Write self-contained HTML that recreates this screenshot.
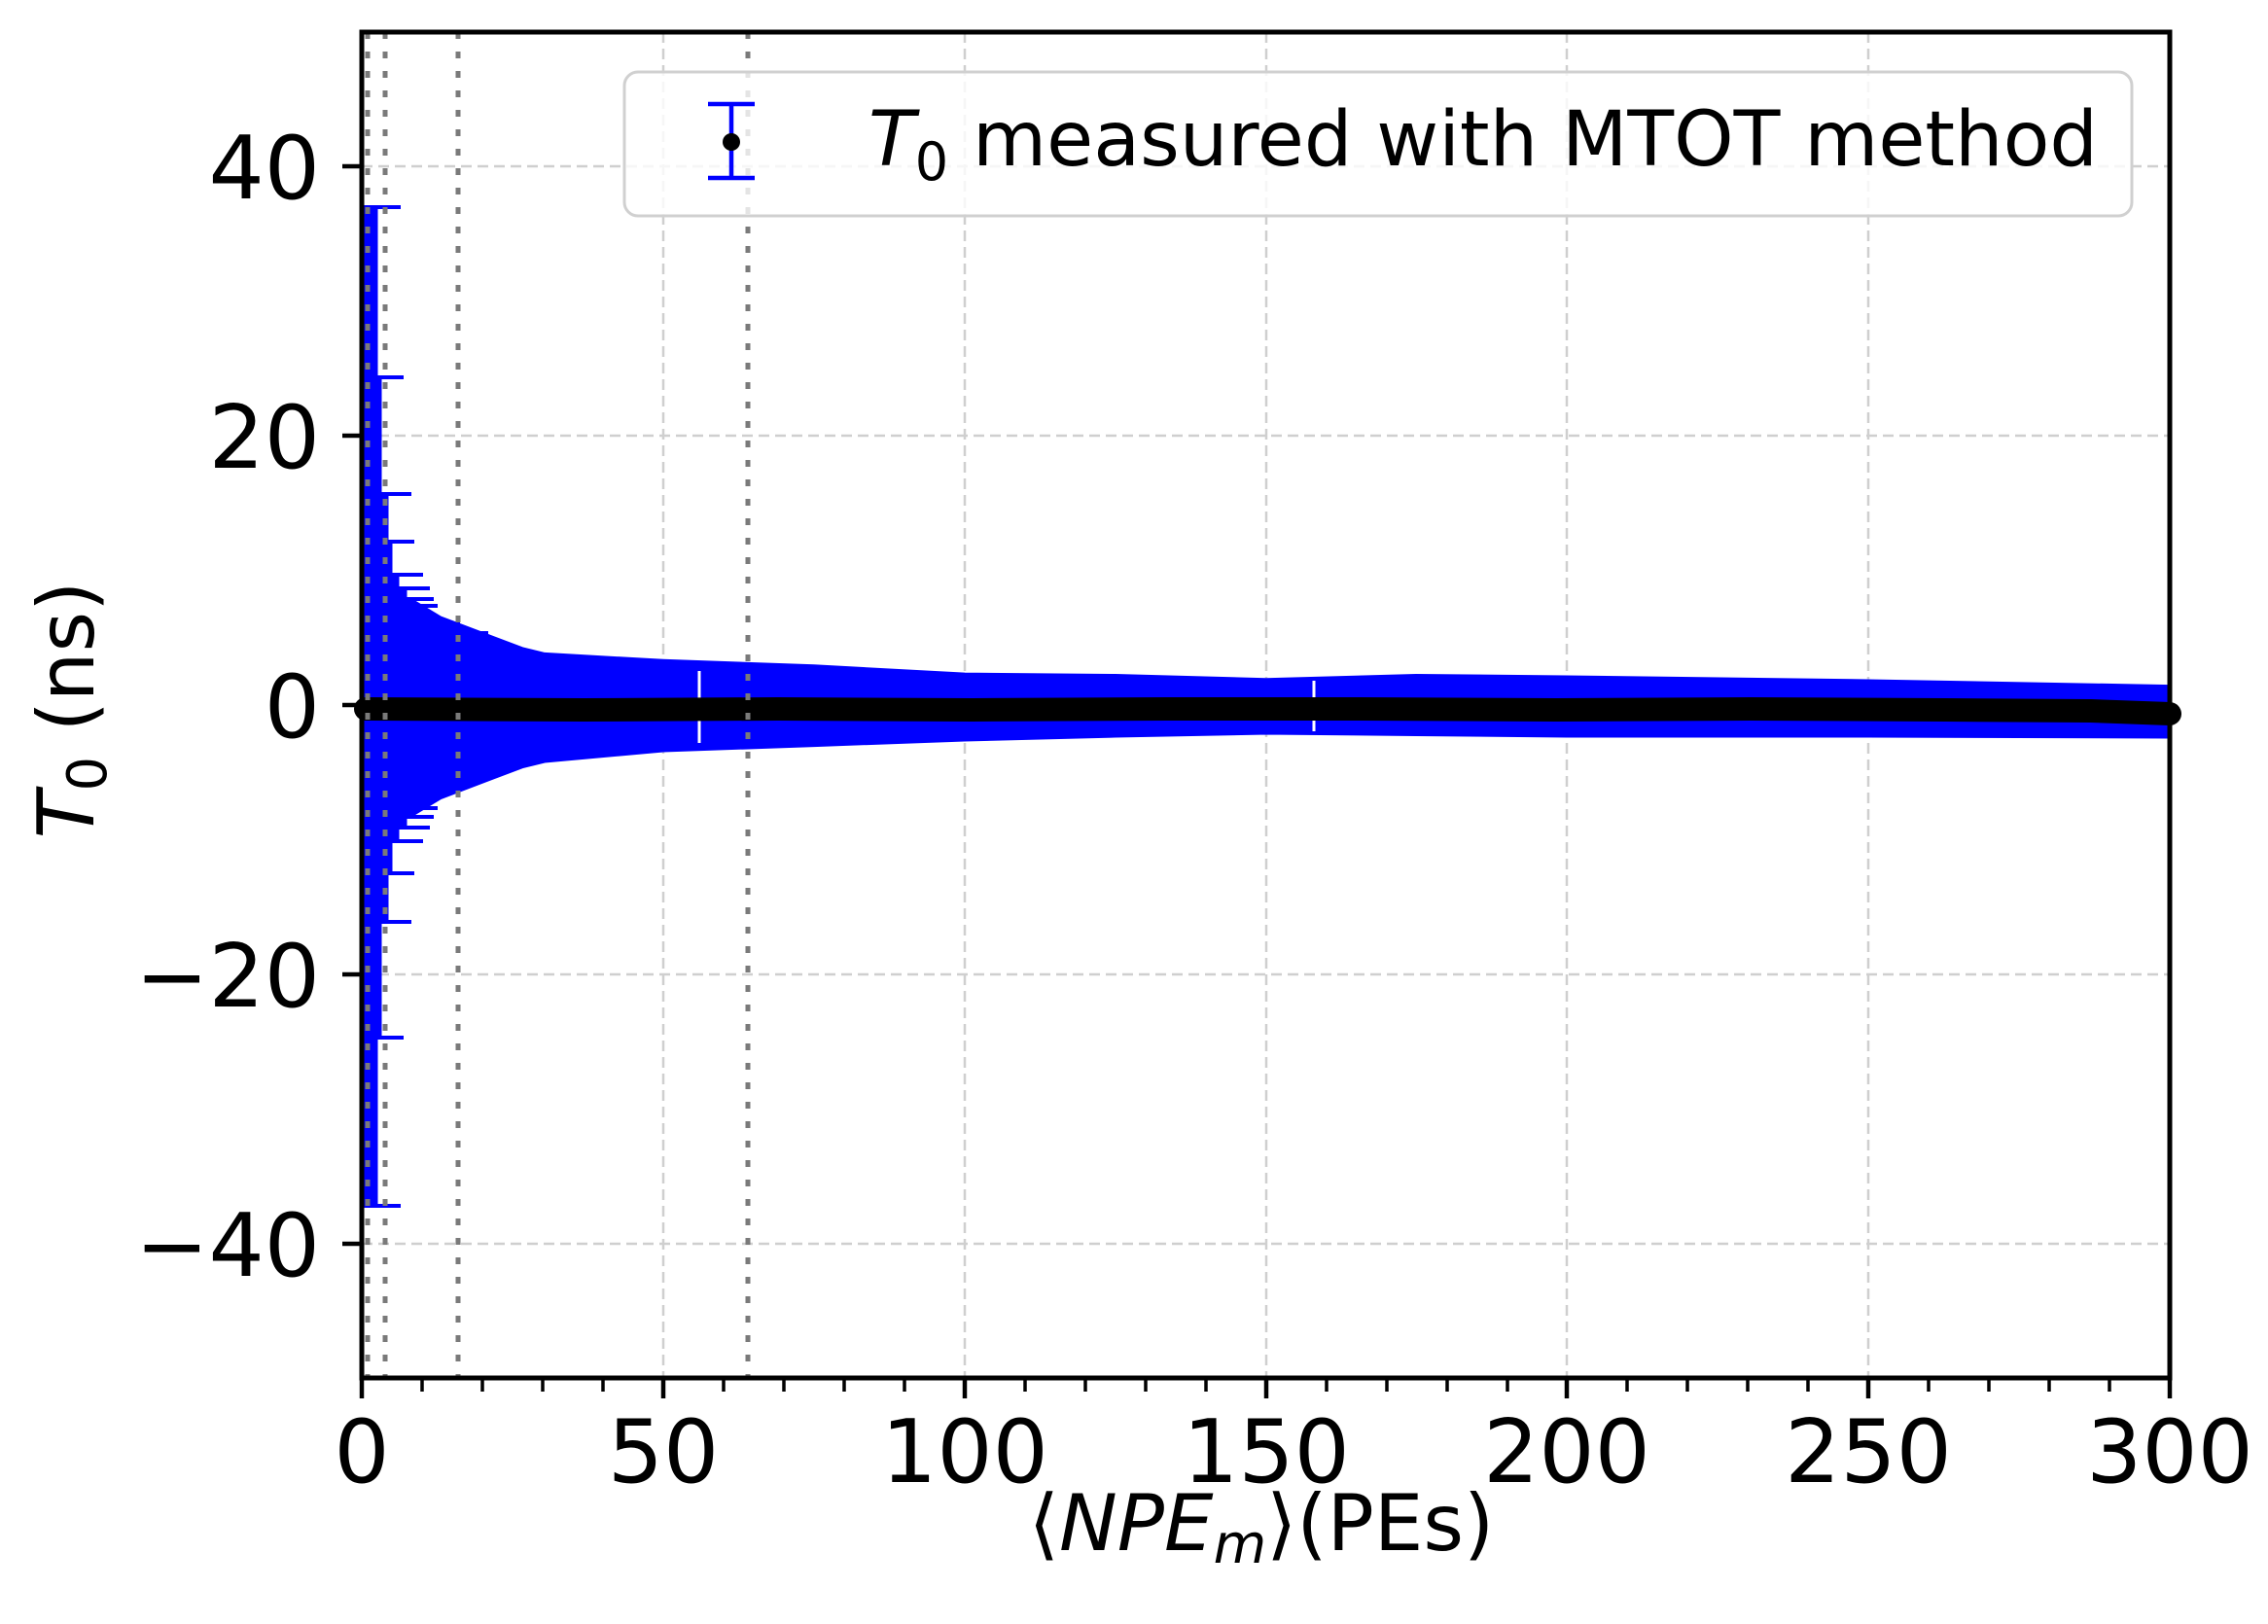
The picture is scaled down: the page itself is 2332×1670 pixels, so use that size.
<!DOCTYPE html>
<html><head><meta charset="utf-8"><style>
html,body{margin:0;padding:0;background:#fff;}
svg{display:block;}
text{font-family:"DejaVu Sans","Liberation Sans",sans-serif;fill:#000;}
</style></head><body>
<svg width="2332" height="1670" viewBox="0 0 2332 1670" xmlns="http://www.w3.org/2000/svg">
<rect width="2332" height="1670" fill="#fff"/>
<!-- grid -->
<g stroke="#cfcfcf" stroke-width="2.5" stroke-dasharray="11 6" fill="none">
<line x1="682" y1="33" x2="682" y2="1417"/>
<line x1="992" y1="33" x2="992" y2="1417"/>
<line x1="1302" y1="33" x2="1302" y2="1417"/>
<line x1="1611" y1="33" x2="1611" y2="1417"/>
<line x1="1921" y1="33" x2="1921" y2="1417"/>
<line x1="372" y1="171" x2="2231" y2="171"/>
<line x1="372" y1="448" x2="2231" y2="448"/>
<line x1="372" y1="1002" x2="2231" y2="1002"/>
<line x1="372" y1="1279" x2="2231" y2="1279"/>
</g>
<!-- band -->
<polygon fill="#0000ff" stroke="#0000ff" stroke-width="3" stroke-linejoin="round" points="374,212.5 387,212.5 387,388.4 391,388.4 391,507.6 398,507.6 398,557.4 402,557.4 402,590.7 409,590.7 409,604.5 417,604.5 417,615.6 421,615.6 453,635 493,650.2 537,666.8 560,672.4 682,679.3 837,684.8 992,693.1 1147,694.5 1302,698.7 1456,694.5 1611,696 1921,700 2231,705.6 2231,758 1921,757 1611,757 1456,755.5 1302,754 1147,757 992,761 837,766.6 682,772 560,783 537,788.7 493,805.3 453,820.6 421,840 417,840 417,851 409,851 409,865 402,865 402,898 398,898 398,948 391,948 391,1067 387,1067 387,1240 374,1240"/>
<g stroke="#0000ff" stroke-width="4">
<line x1="374" y1="213" x2="412" y2="213"/>
<line x1="374" y1="388" x2="415" y2="388"/>
<line x1="374" y1="508" x2="423" y2="508"/>
<line x1="374" y1="557" x2="426" y2="557"/>
<line x1="403" y1="591" x2="435" y2="591"/>
<line x1="410" y1="605" x2="442" y2="605"/>
<line x1="417" y1="616" x2="446" y2="616"/>
<line x1="422" y1="623" x2="450" y2="623"/>
<line x1="440" y1="641" x2="473" y2="641"/>
<line x1="477" y1="651" x2="502" y2="651"/>
<line x1="374" y1="1240" x2="412" y2="1240"/>
<line x1="374" y1="1067" x2="415" y2="1067"/>
<line x1="374" y1="948" x2="423" y2="948"/>
<line x1="374" y1="898" x2="426" y2="898"/>
<line x1="403" y1="865" x2="435" y2="865"/>
<line x1="410" y1="851" x2="442" y2="851"/>
<line x1="417" y1="840" x2="446" y2="840"/>
<line x1="422" y1="831" x2="450" y2="831"/>
<line x1="440" y1="812" x2="473" y2="812"/>
<line x1="477" y1="800" x2="502" y2="800"/>
</g>
<!-- white gaps -->
<line x1="719" y1="690" x2="719" y2="764" stroke="#fff" stroke-width="3"/>
<line x1="1351" y1="700" x2="1351" y2="752" stroke="#fff" stroke-width="3"/>
<!-- center points -->
<path d="M376,729 L600,730 L800,729 L1000,730 L1200,729 L1400,729 L1600,730 L1800,729 L2000,730 L2150,731 L2231,734" stroke="#000" stroke-width="24" fill="none" stroke-linecap="round"/>
<!-- dotted verticals -->
<g stroke="#7a7a7a" stroke-width="5" stroke-dasharray="7 13">
<line x1="378" y1="33" x2="378" y2="1417"/>
<line x1="396" y1="33" x2="396" y2="1417"/>
<line x1="471" y1="33" x2="471" y2="1417"/>
<line x1="769" y1="33" x2="769" y2="1417"/>
</g>
<!-- legend -->
<rect x="642" y="74" width="1550" height="148" rx="14" fill="#fff" fill-opacity="0.8" stroke="#d0d0d0" stroke-width="3"/>
<g stroke="#0000ff" stroke-width="4.5">
<line x1="752" y1="107" x2="752" y2="183"/>
<line x1="728" y1="107" x2="776" y2="107"/>
<line x1="728" y1="183" x2="776" y2="183"/>
</g>
<circle cx="752" cy="146" r="9" fill="#000"/>
<text x="893" y="170" font-size="78" textLength="1264" lengthAdjust="spacingAndGlyphs"><tspan font-style="italic">T</tspan><tspan font-size="54" dy="15">0</tspan><tspan dy="-15"> measured with MTOT method</tspan></text>
<!-- axes frame -->
<rect x="372" y="33" width="1859" height="1384" fill="none" stroke="#000" stroke-width="5"/>
<!-- ticks -->
<g stroke="#000" stroke-width="4.5">
<line x1="352" y1="171" x2="372" y2="171"/>
<line x1="352" y1="448" x2="372" y2="448"/>
<line x1="352" y1="725" x2="372" y2="725"/>
<line x1="352" y1="1002" x2="372" y2="1002"/>
<line x1="352" y1="1279" x2="372" y2="1279"/>
<line x1="372" y1="1417" x2="372" y2="1438"/>
<line x1="682" y1="1417" x2="682" y2="1438"/>
<line x1="992" y1="1417" x2="992" y2="1438"/>
<line x1="1302" y1="1417" x2="1302" y2="1438"/>
<line x1="1611" y1="1417" x2="1611" y2="1438"/>
<line x1="1921" y1="1417" x2="1921" y2="1438"/>
<line x1="2231" y1="1417" x2="2231" y2="1438"/>
</g>
<g stroke="#000" stroke-width="3.5">
<line x1="434" y1="1417" x2="434" y2="1431"/><line x1="496" y1="1417" x2="496" y2="1431"/><line x1="558" y1="1417" x2="558" y2="1431"/><line x1="620" y1="1417" x2="620" y2="1431"/>
<line x1="744" y1="1417" x2="744" y2="1431"/><line x1="806" y1="1417" x2="806" y2="1431"/><line x1="868" y1="1417" x2="868" y2="1431"/><line x1="930" y1="1417" x2="930" y2="1431"/>
<line x1="1054" y1="1417" x2="1054" y2="1431"/><line x1="1116" y1="1417" x2="1116" y2="1431"/><line x1="1178" y1="1417" x2="1178" y2="1431"/><line x1="1240" y1="1417" x2="1240" y2="1431"/>
<line x1="1364" y1="1417" x2="1364" y2="1431"/><line x1="1426" y1="1417" x2="1426" y2="1431"/><line x1="1488" y1="1417" x2="1488" y2="1431"/><line x1="1550" y1="1417" x2="1550" y2="1431"/>
<line x1="1673" y1="1417" x2="1673" y2="1431"/><line x1="1735" y1="1417" x2="1735" y2="1431"/><line x1="1797" y1="1417" x2="1797" y2="1431"/><line x1="1859" y1="1417" x2="1859" y2="1431"/>
<line x1="1983" y1="1417" x2="1983" y2="1431"/><line x1="2045" y1="1417" x2="2045" y2="1431"/><line x1="2107" y1="1417" x2="2107" y2="1431"/><line x1="2169" y1="1417" x2="2169" y2="1431"/>
</g>
<!-- tick labels -->
<g font-size="90" text-anchor="end">
<text x="329" y="204">40</text>
<text x="329" y="481">20</text>
<text x="329" y="758">0</text>
<text x="329" y="1035">−20</text>
<text x="329" y="1312">−40</text>
</g>
<g font-size="90" text-anchor="middle">
<text x="372" y="1524">0</text>
<text x="682" y="1524">50</text>
<text x="992" y="1524">100</text>
<text x="1302" y="1524">150</text>
<text x="1611" y="1524">200</text>
<text x="1921" y="1524">250</text>
<text x="2231" y="1524">300</text>
</g>
<text x="1297" y="1594" font-size="80" text-anchor="middle">⟨<tspan font-style="italic">NPE</tspan><tspan font-style="italic" font-size="56" dy="13">m</tspan><tspan dy="-13">⟩(PEs)</tspan></text>
<text transform="translate(96,730) rotate(-90)" font-size="80" text-anchor="middle"><tspan font-style="italic">T</tspan><tspan font-size="56" dy="13">0</tspan><tspan dy="-13"> (ns)</tspan></text>
</svg>
</body></html>
